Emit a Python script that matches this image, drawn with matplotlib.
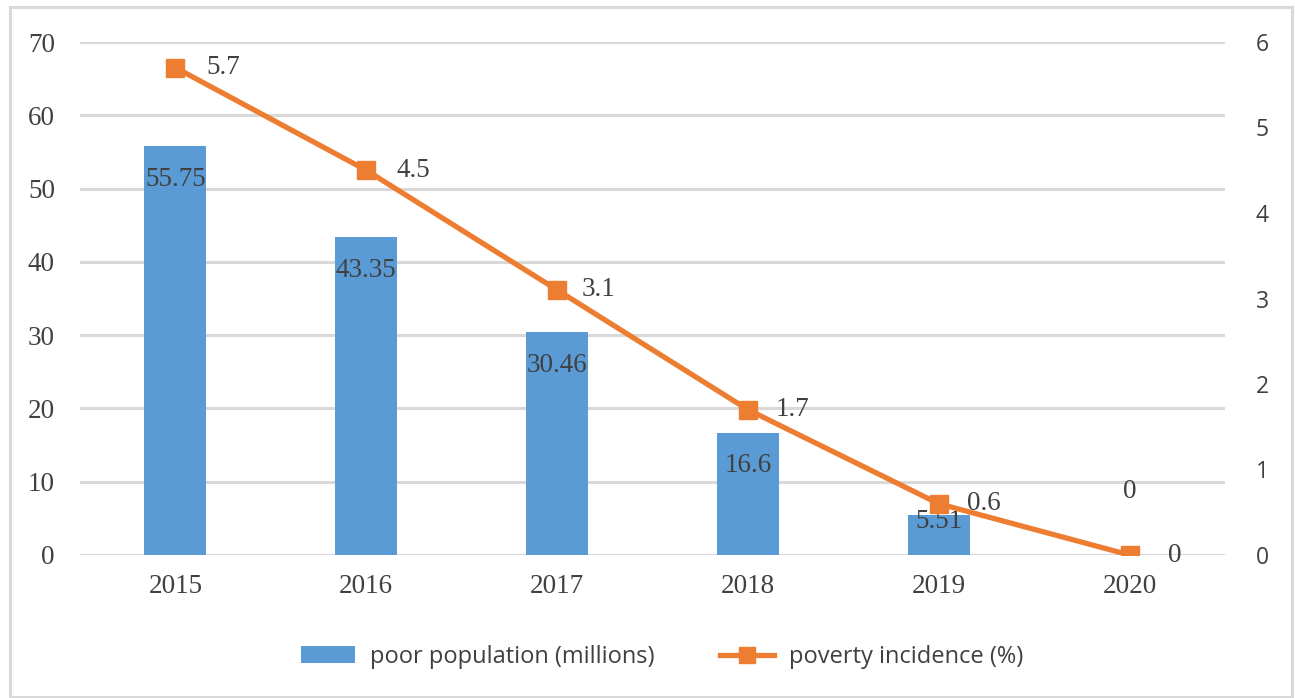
import matplotlib
matplotlib.use("Agg")
import matplotlib.pyplot as plt
from matplotlib.patches import Rectangle
from matplotlib.lines import Line2D
from matplotlib.patches import Patch

years = ["2015", "2016", "2017", "2018", "2019", "2020"]
poor_population = [55.75, 43.35, 30.46, 16.6, 5.51, 0]
poverty_incidence = [5.7, 4.5, 3.1, 1.7, 0.6, 0]
left_ticks = [0, 10, 20, 30, 40, 50, 60, 70]
right_ticks = [0, 1, 2, 3, 4, 5, 6]

BAR_C = "#5B9BD5"
LINE_C = "#ED7D31"
GRID_C = "#D9D9D9"
TXT_C = "#404040"
SERIF = "Liberation Serif"
SANS = "Open Sans"

fig = plt.figure(figsize=(12.95, 6.98), dpi=100)
fig.patches.append(Rectangle((10/1295, 1/698), 1282/1295, 690/698, transform=fig.transFigure,
                             fill=False, edgecolor=GRID_C, linewidth=2.2))
ax = fig.add_axes([80/1295, 1-555/698, 1145/1295, 513/698])
x = list(range(len(years)))
bars = ax.bar(x, poor_population, width=0.325, color=BAR_C, zorder=2)
ax.set_ylim(0, 70)
ax.set_xlim(-0.5, len(years)-0.5)
ax.set_yticks(left_ticks)
ax.set_yticklabels([str(t) for t in left_ticks])
ax.set_xticks(x)
ax.set_xticklabels(years)
ax.tick_params(axis="y", length=0, pad=18)
ax.tick_params(axis="x", length=0, pad=14)
for s in ax.spines.values():
    s.set_visible(False)
ax.yaxis.grid(True, color=GRID_C, linewidth=2.2, zorder=0)
ax.set_axisbelow(True)

offsets = [-24, -24, -24, -23, -5, 46]
for xi, v, off in zip(x, poor_population, offsets):
    ax.annotate(f"{v:g}", (xi, v), xytext=(0, off), textcoords="offset points",
                ha="center", va="center", fontfamily=SERIF, fontsize=19.5, color=TXT_C, zorder=5)

ax2 = ax.twinx()
ax2.plot(x, poverty_incidence, color=LINE_C, linewidth=3.8, marker="s", markersize=13,
         zorder=4)
ax2.set_ylim(0, 6)
ax2.set_yticks(right_ticks)
ax2.set_yticklabels([str(t) for t in right_ticks])
ax2.tick_params(axis="y", length=0, pad=22)
for s in ax2.spines.values():
    s.set_visible(False)
line_offsets = [22, 22, 18, 20, 20, 28]
for xi, v, off in zip(x, poverty_incidence, line_offsets):
    ax2.annotate(f"{v:g}", (xi, v), xytext=(off, 0), textcoords="offset points",
                 ha="left", va="center", fontfamily=SERIF, fontsize=19.5, color=TXT_C, zorder=5)

for lab in ax.get_yticklabels() + ax.get_xticklabels():
    lab.set_fontfamily(SERIF)
    lab.set_fontsize(19.5)
    lab.set_color(TXT_C)
for lab in ax2.get_yticklabels():
    lab.set_fontfamily(SANS)
    lab.set_fontsize(16.5)
    lab.set_color(TXT_C)

handles = [Patch(facecolor=BAR_C, edgecolor="none"),
           Line2D([0], [0], color=LINE_C, linewidth=3.8, marker="s", markersize=12)]
leg = fig.legend(handles, ["poor population (millions)", "poverty incidence (%)"],
                 loc="center", bbox_to_anchor=(662/1295, 1-657/698), ncol=2, frameon=False,
                 prop={"family": SANS, "size": 17}, handlelength=2.3, columnspacing=2.8,
                 handletextpad=0.6)
for t in leg.get_texts():
    t.set_color(TXT_C)

fig.savefig("out.png", dpi=100)
